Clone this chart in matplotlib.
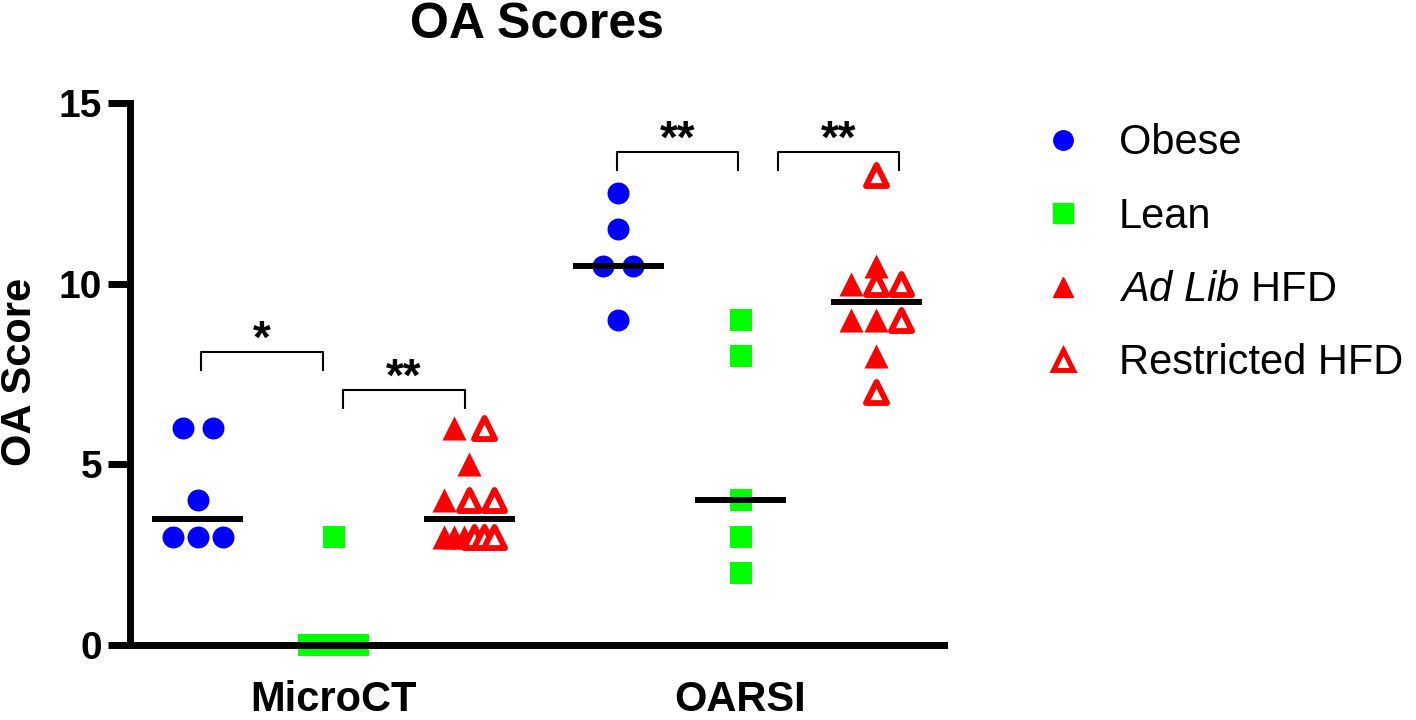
import numpy as np
import matplotlib
matplotlib.use('Agg')
import matplotlib.pyplot as plt
from matplotlib.lines import Line2D

plt.rcParams['font.family'] = ['Liberation Sans', 'DejaVu Sans']
plt.rcParams['mathtext.fontset'] = 'custom'
plt.rcParams['mathtext.rm'] = 'Liberation Sans'
plt.rcParams['mathtext.it'] = 'Liberation Sans:italic'

# Data
categories = ['MicroCT', 'OARSI']
obese = {'MicroCT': [6, 6, 4, 3, 3, 3], 'OARSI': [12.5, 11.5, 10.5, 10.5, 9]}
lean = {'MicroCT': [3, 0, 0, 0, 0], 'OARSI': [9, 8, 4, 3, 2]}
adlib = {'MicroCT': [6, 5, 4, 3, 3, 3], 'OARSI': [10.5, 10, 9, 9, 8]}
restricted = {'MicroCT': [6, 4, 4, 3, 3, 3], 'OARSI': [13, 10, 10, 9, 7]}

# significance brackets: (x start, x end, height, label)
brackets = [(0.52, 1.42, 8.1, '*'), (1.57, 2.47, 7.05, '**'),
            (3.59, 4.48, 13.65, '**'), (4.78, 5.67, 13.65, '**')]

BLUE, GREEN, RED = '#0000FF', '#00FF00', '#FF0000'
PX = 135.7  # pixels per x unit


def row_offsets(vals):
    # spread equal values side by side (GraphPad style column scatter)
    vals = np.asarray(vals, dtype=float)
    off = np.zeros(len(vals))
    for v in np.unique(vals):
        idx = np.where(vals == v)[0]
        n = len(idx)
        if n > 1:
            step = min(30, 50 / (n - 1)) / PX
            off[idx] = (np.arange(n) - (n - 1) / 2) * step
    return off


fig = plt.figure(figsize=(14.16, 7.2), dpi=100)
ax = fig.add_axes([130 / 1416, 75 / 720, 814 / 1416, 542 / 720])

centers = {'MicroCT': [0.5, 1.5, 2.5], 'OARSI': [3.6, 4.5, 5.5]}
mk = dict(s=250, linewidths=0, clip_on=False, zorder=2)

for cat in categories:
    c_ob, c_le, c_hf = centers[cat]
    v = np.array(obese[cat])
    ax.scatter(c_ob + row_offsets(v), v, marker='o', color=BLUE, **mk)
    v = np.array(lean[cat])
    ax.scatter(c_le + row_offsets(v), v, marker='s', color=GREEN, **mk)
    # ad lib and restricted share one column
    a = np.array(adlib[cat])
    r = np.array(restricted[cat])
    both = np.concatenate([a, r])
    off = row_offsets(both)
    ax.scatter(c_hf + off[:len(a)], a, marker='^', color=RED, s=300,
               linewidths=0, clip_on=False, zorder=2)
    ax.scatter(c_hf + off[len(a):], r, marker='^', facecolor='white',
               edgecolor=RED, s=230, linewidths=4.2, clip_on=False, zorder=2,
               joinstyle='round')
    # median lines
    for c, vals in [(c_ob, obese[cat]), (c_le, lean[cat]), (c_hf, both)]:
        ax.hlines(np.median(vals), c - 0.335, c + 0.335, color='black',
                  lw=4.3, zorder=3)

for x0, x1, y, lab in brackets:
    ax.plot([x0, x0, x1, x1], [y - 0.5, y, y, y - 0.5], color='black',
            lw=1.5, clip_on=False)
    ax.text((x0 + x1) / 2, y - 0.3, lab, ha='center', va='bottom',
            fontsize=33, fontweight='bold')

ax.set_xlim(0, 6)
ax.set_ylim(0, 15)
for s in ['top', 'right']:
    ax.spines[s].set_visible(False)
for s in ['left', 'bottom']:
    ax.spines[s].set_linewidth(5)
    ax.spines[s].set_zorder(4)
ax.set_yticks([0, 5, 10, 15])
ax.tick_params(axis='y', length=16, width=5, pad=4, labelsize=28)
for t in ax.get_yticklabels():
    t.set_fontweight('bold')
ax.set_xticks([1.5, 4.5])
ax.set_xticklabels(categories, fontsize=30, fontweight='bold')
ax.tick_params(axis='x', length=0, pad=25)

fig.text(537 / 1416, 1 - 25 / 720, 'OA Scores', ha='center', va='center',
         fontsize=36, fontweight='bold')
fig.text(20 / 1416, 1 - 372 / 720, 'OA Score', ha='center', va='center',
         rotation=90, fontsize=30, fontweight='bold')

handles = [
    Line2D([], [], ls='', marker='o', color=BLUE, markersize=14),
    Line2D([], [], ls='', marker='s', color=GREEN, markersize=14),
    Line2D([], [], ls='', marker='^', color=RED, markersize=15),
    Line2D([], [], ls='', marker='^', markerfacecolor='white',
           markeredgecolor=RED, markeredgewidth=3.6, markersize=14),
]
labels = ['Obese', 'Lean', r'$\it{Ad\ Lib}$ HFD', 'Restricted HFD']
fig.legend(handles, labels, loc='upper left',
           bbox_to_anchor=(1000 / 1416, 1 - 86 / 720), frameon=False,
           fontsize=30, labelspacing=0.8, handletextpad=0.75,
           handlelength=1.2)

fig.savefig('out.png', dpi=100)
